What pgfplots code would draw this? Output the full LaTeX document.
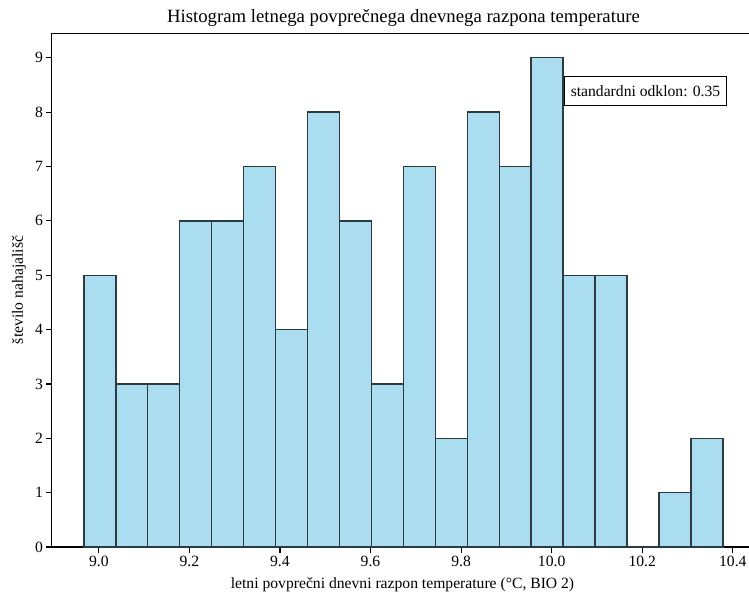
\documentclass[border=0pt]{standalone}
\usepackage{pgfplots}
\pgfplotsset{compat=1.18}
\usepackage{fontspec}
\setmainfont{Liberation Serif}

\definecolor{barfill}{RGB}{171,221,241}
\definecolor{baredge}{RGB}{45,58,64}

% bin edges and counts (the last row closes the final interval)
\pgfplotstableread{
edge     count
8.9670   5
9.0376   3
9.1081   3
9.1787   6
9.2492   6
9.3198   7
9.3903   4
9.4609   8
9.5314   6
9.6020   3
9.6725   7
9.7431   2
9.8136   8
9.8842   7
9.9547   9
10.0253  5
10.0958  5
10.1664  0
10.2369  1
10.3075  2
10.3780  2
}\bins

\begin{document}
\begin{tikzpicture}[x=1bp,y=1bp]
\useasboundingbox (0,0) rectangle (749,-597);
\begin{axis}[
  at={(51.7bp,-547bp)}, anchor=south west,
  width=703.3bp, height=513.7bp, scale only axis,
  xmin=8.896, xmax=10.449, ymin=0, ymax=9.45,
  xtick={9.0,9.2,9.4,9.6,9.8,10.0,10.2,10.4},
  ytick={0,1,2,3,4,5,6,7,8,9},
  xticklabel style={/pgf/number format/fixed, /pgf/number format/fixed zerofill, /pgf/number format/precision=1},
  /pgf/number format/assume math mode=true,
  tick label style={font=\fontsize{15.7}{18}\selectfont, text=black},
  yticklabel style={inner xsep=3bp},
  xticklabel style={inner ysep=3.5bp},
  xtick pos=bottom, ytick pos=left,
  tick align=outside, major tick length=5.5bp,
  tick style={black, line width=1.2bp},
  axis line style={black, line width=1.2bp},
  clip=false,
]
\addplot[ybar interval, fill=barfill, draw=baredge, line width=1.4bp]
  table[x=edge, y=count] {\bins};
\end{axis}

\node[anchor=base, font=\fontsize{18.8}{22}\selectfont] at (403.5,-22.7)
  {Histogram letnega povprečnega dnevnega razpona temperature};
\node[anchor=base, font=\fontsize{15.7}{18}\selectfont] at (402.5,-588)
  {letni povprečni dnevni razpon temperature (°C, BIO 2)};
\node[rotate=90, font=\fontsize{15.7}{18}\selectfont] at (19,-290)
  {število nahajališč};
\node[draw=black, fill=white, line width=1bp, inner xsep=6bp, inner ysep=0bp,
      minimum height=28.3bp, font=\fontsize{15.7}{18}\selectfont] at (645.5,-91)
  {standardni odklon: 0.35};
\end{tikzpicture}
\end{document}
